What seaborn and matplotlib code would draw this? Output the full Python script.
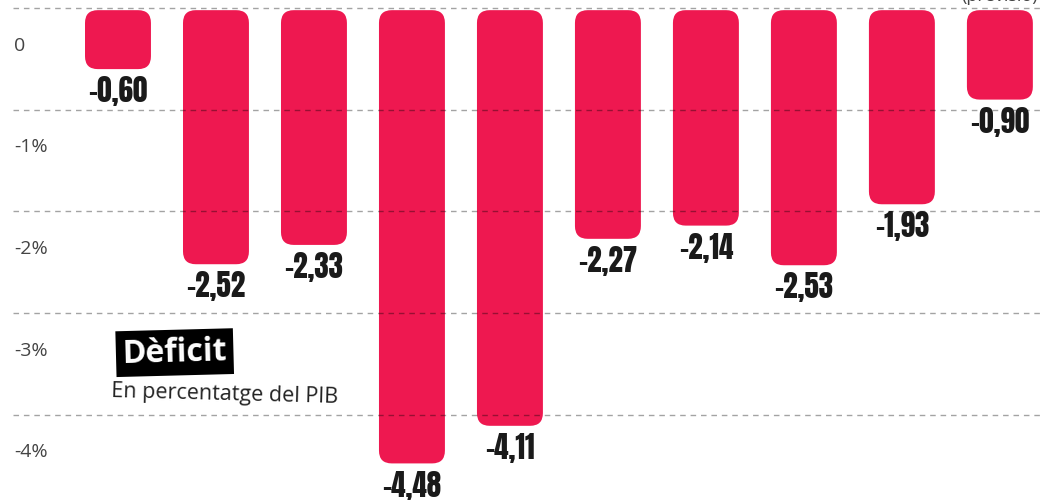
import matplotlib.pyplot as plt
import seaborn as sns
import pandas as pd
from matplotlib.patches import FancyBboxPatch

## data
deficit = [-0.60, -2.52, -2.33, -4.48, -4.11, -2.27, -2.14, -2.53, -1.93, -0.90]
etiquetes = ['-0,60', '-2,52', '-2,33', '-4,48', '-4,11', '-2,27', '-2,14', '-2,53', '-1,93', '-0,90']
ticks_y = [0, -1, -2, -3, -4]
ticks_lbl = ['0', '-1%', '-2%', '-3%', '-4%']

df = pd.DataFrame({'i': range(len(deficit)), 'val': deficit})

sns.set_style("white")
fig = plt.figure(figsize=(10.43, 5), dpi=100)
ax = fig.add_axes([0, 0, 1, 1])

sns.barplot(x='i', y='val', data=df, color='#EE1850', width=0.673, ax=ax, saturation=1)

## swap the square bars for rounded ones
for p in list(ax.patches):
    x0, w = p.get_x(), p.get_width()
    y0, h = p.get_y(), p.get_height()
    top = -0.02
    bottom = y0 + h if h < 0 else y0
    rp = FancyBboxPatch((x0, bottom), w, top - bottom,
                        boxstyle="round,pad=0,rounding_size=0.13",
                        mutation_aspect=0.964, fc='#EE1850', ec='none', zorder=2)
    p.remove()
    ax.add_patch(rp)

ax.set_xlim(-1.204, 9.44)
ax.set_ylim(-4.84, 0.08)
ax.axis('off')

## dashed gridlines drawn above the bars
for v, t in zip(ticks_y, ticks_lbl):
    ax.plot([-1.07, 9.44], [v, v], ls=(0, (4, 3.5)), color='black', alpha=0.36, lw=1, zorder=3)
    ax.text(-1.06, v - 0.37, t, fontsize=14, color='#444444', va='center', ha='left',
            family='Open Sans')

## value labels
for i, (v, t) in enumerate(zip(deficit, etiquetes)):
    ax.text(i, v - 0.07, t, ha='center', va='top', fontsize=21,
            family=['Anton', 'DejaVu Sans'], color='#1a1a1a')

ax.text(9.0, 0.12, '(previsió)', ha='center', va='center', fontsize=13, color='#444444',
        family='Open Sans')

## title box
ax.text(0.04, -3.39, 'Dèficit', fontsize=23, fontweight='bold', color='white', rotation=1.5,
        family='Open Sans', ha='left', va='center',
        bbox=dict(boxstyle='square,pad=0.2', fc='black', ec='none'))
ax.text(-0.07, -3.80, 'En percentatge del PIB', fontsize=15.5, color='#222222', rotation=-1.5,
        family='Open Sans', ha='left', va='center')

plt.savefig('out.png', dpi=100)
